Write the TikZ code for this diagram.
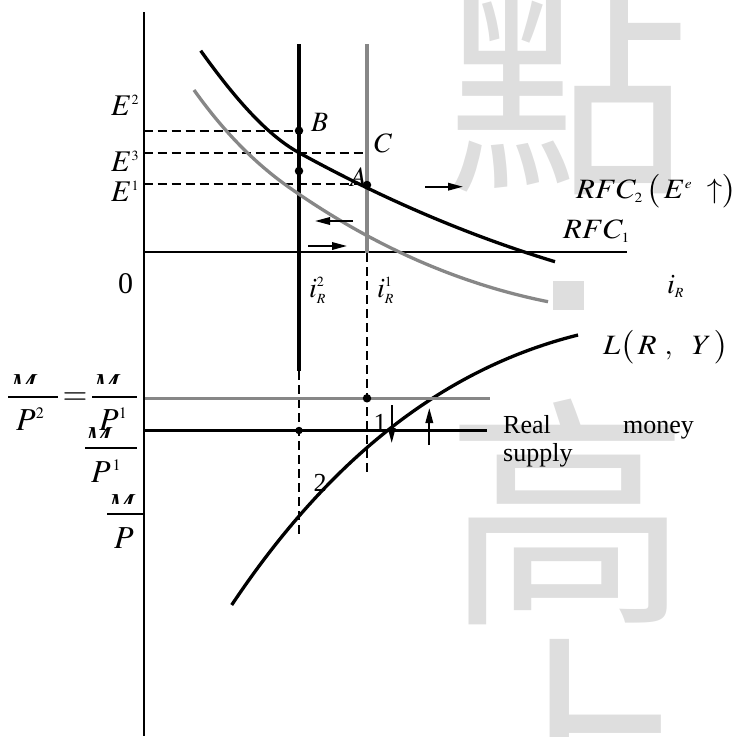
\documentclass[tikz,border=0pt]{standalone}
\usepackage{mathptmx}
\usepackage[no-math]{fontspec}
\setmainfont{Liberation Serif}
\newfontfamily\cjkfont{Noto Sans CJK TC}
\usetikzlibrary{arrows.meta}
\DeclareMathSizes{26}{26}{13}{10}
\DeclareMathSizes{28}{28}{14}{11}
\DeclareMathSizes{30}{30}{14}{11}
\DeclareMathSizes{32}{32}{16}{12}
\definecolor{cg}{RGB}{135,135,135}
\definecolor{wmc}{RGB}{222,222,222}
\begin{document}
\begin{tikzpicture}[x=1pt,y=-1pt,
  axl/.style={line width=2pt, black},
  thk/.style={line width=3.3pt, black},
  thkg/.style={line width=3.3pt, cg},
  dsh/.style={line width=1.8pt, black, dash pattern=on 9pt off 5pt},
  fbar/.style={line width=1.4pt, black},
  arr/.style={line width=1.8pt, black, -{Triangle[length=15pt,width=7.5pt]}},
  dotn/.style={circle, fill=black, inner sep=0pt, minimum size=8.5pt},
  wm/.style={inner sep=0pt, anchor=base, text=wmc, font=\cjkfont\fontsize{245}{245}\selectfont},
  lbl/.style={inner sep=0pt, anchor=base west, font=\fontsize{28}{32}\selectfont},
  lblW/.style={inner sep=0pt, anchor=base west, xscale=1.1, font=\fontsize{28}{32}\selectfont},
  lblE/.style={inner sep=0pt, anchor=base west, font=\fontsize{30}{34}\selectfont},
  lblF/.style={inner sep=0pt, anchor=base, font=\fontsize{32}{36}\selectfont},
  txt/.style={inner sep=0pt, font=\fontsize{26}{30}\selectfont}]
\useasboundingbox (0,0) rectangle (738,736);
% watermark
\begin{scope}
\clip (0,0) rectangle (738,736);
\node[wm] (wma) at (568,175) {點};
\fill[wmc] (553,281) rectangle (584,310);
\node[wm] (wmb) at (568,605) {高};
\node[wm] (wmc) at (568,841) {上};
\end{scope}
% axes
\coordinate (vtop) at (143.5,12);
\coordinate (vbot) at (143.5,736);
\coordinate (hleft) at (143.5,252);
\coordinate (hright) at (627,252);
\draw[axl] (vtop) -- (vbot);
\draw[axl] (hleft) -- (hright);
% verticals
\coordinate (b1) at (299,44);
\coordinate (b2) at (299,371);
\coordinate (b3) at (299,538);
\coordinate (g1) at (367,44);
\coordinate (g2) at (367,253);
\coordinate (g3) at (367,473);
\draw[thk] (b1) -- (b2);
\draw[dsh] (b2) -- (b3);
\draw[thkg] (g1) -- (g2);
\draw[dsh] (g2) -- (g3);
% dashed horizontals
\coordinate (e2l) at (143.5,130.7);
\coordinate (e3l) at (143.5,152.7);
\coordinate (e1l) at (143.5,184);
\coordinate (e2r) at (299,130.7);
\coordinate (e3r) at (367,152.7);
\coordinate (e1r) at (367,184);
\draw[dsh] (e2l) -- (e2r);
\draw[dsh] (e3l) -- (e3r);
\draw[dsh] (e1l) -- (e1r);
% curves
\draw[thkg] (194,90) .. controls (226,135) and (258,165.6) .. (290,188)
            .. controls (376,248.2) and (462,284.5) .. (548,301.7);
\draw[thk] (200.7,50.7) .. controls (233.7,96.7) and (266,134.5) .. (299,152.7)
           .. controls (384,199.5) and (470,236) .. (555,261.7);
\draw[thk] (231.7,605) .. controls (351.7,425) and (478,360) .. (578,335);
% lower horizontals
\coordinate (msg1) at (145,398.3);
\coordinate (msg2) at (490,398.3);
\coordinate (msb1) at (143.5,430.5);
\coordinate (msb2) at (487,430.5);
\draw[thkg] (msg1) -- (msg2);
\draw[thk] (msb1) -- (msb2);
% dots
\node[dotn] (B) at (299,130.7) {};
\node[dotn] (D) at (299,171) {};
\node[dotn] (A) at (367,185) {};
\node[dotn] (P1) at (367,398.3) {};
\node[dotn, minimum size=7.5pt] (P2) at (299,430.5) {};
% arrows
\coordinate (a1s) at (425,186.7); \coordinate (a1e) at (463,186.7);
\coordinate (a2s) at (353,221);   \coordinate (a2e) at (315,221);
\coordinate (a3s) at (308,246);   \coordinate (a3e) at (347,246);
\coordinate (a4s) at (391.7,405); \coordinate (a4e) at (391.7,443);
\coordinate (a5s) at (429.3,445); \coordinate (a5e) at (429.3,408);
\draw[arr] (a1s) -- (a1e);
\draw[arr] (a2s) -- (a2e);
\draw[arr] (a3s) -- (a3e);
\draw[arr] (a4s) -- (a4e);
\draw[arr] (a5s) -- (a5e);
% labels upper panel
\node[lblE] (lE2) at (111,115) {$E^2$};
\node[lblE] (lE3) at (111,171.7) {$E^3$};
\node[lblE] (lE1) at (111,201.7) {$E^1$};
\node[lbl] (lB) at (311,131.7) {$B$};
\node[lbl] (lC) at (374,152) {$C$};
\node[lbl] (lA) at (350,186.7) {$A$};
\node[lblE, anchor=base] (l0) at (125.5,293) {0};
\node[lbl] (li2) at (309,297) {$i_R^2$};
\node[lbl] (li1) at (377,297) {$i_R^1$};
\node[lbl] (liR) at (667,293) {$i_R$};
\node[lblW] (lRFC2) at (576,198.3) {$RFC_2\,\bigl(\,E^e\ \uparrow\bigr)$};
\node[lblW] (lRFC1) at (563,238) {$RFC_1$};
\node[lblW] (lL) at (603,354) {$L\bigl(\,R\ ,\ \ Y\,\bigr)$};
% lower labels
\node[txt, anchor=base] (n1) at (380,431.7) {1};
\node[txt, anchor=base] (n2) at (320,491.7) {2};
\node[txt, anchor=base west] (real) at (503,433.3) {Real};
\node[txt, anchor=base east] (money) at (694,433.3) {money};
\node[txt, anchor=base west] (supply) at (503,461.7) {supply};
% fractions on the left
\begin{scope}
\clip (0,360) rectangle (143,383.5);
\node[lblF] (m1) at (23.5,395) {$M$};
\node[lblF] (m2) at (106.5,395) {$M$};
\end{scope}
\begin{scope}
\clip (0,415) rectangle (143,437);
\node[lblF] (m3) at (98.5,448) {$M$};
\end{scope}
\begin{scope}
\clip (0,480) rectangle (143,503);
\node[lblF] (m4) at (121.5,515) {$M$};
\end{scope}
\draw[fbar] (8,397) -- (58,397);
\draw[fbar] (92,397) -- (137,397);
\draw[fbar] (85,448) -- (137,448);
\draw[fbar] (107,514) -- (143,514);
\node[lblF, anchor=base west] (p2) at (16,430) {$P^2$};
\node[lblF, anchor=center] (eq) at (75,398.5) {$=$};
\node[lblF, anchor=base west] (p1a) at (99,430) {$P^1$};
\node[lblF, anchor=base west] (p1b) at (91,482) {$P^{\,1}$};
\node[lblF, anchor=base west] (p0) at (114,548) {$P$};
\end{tikzpicture}
\end{document}
